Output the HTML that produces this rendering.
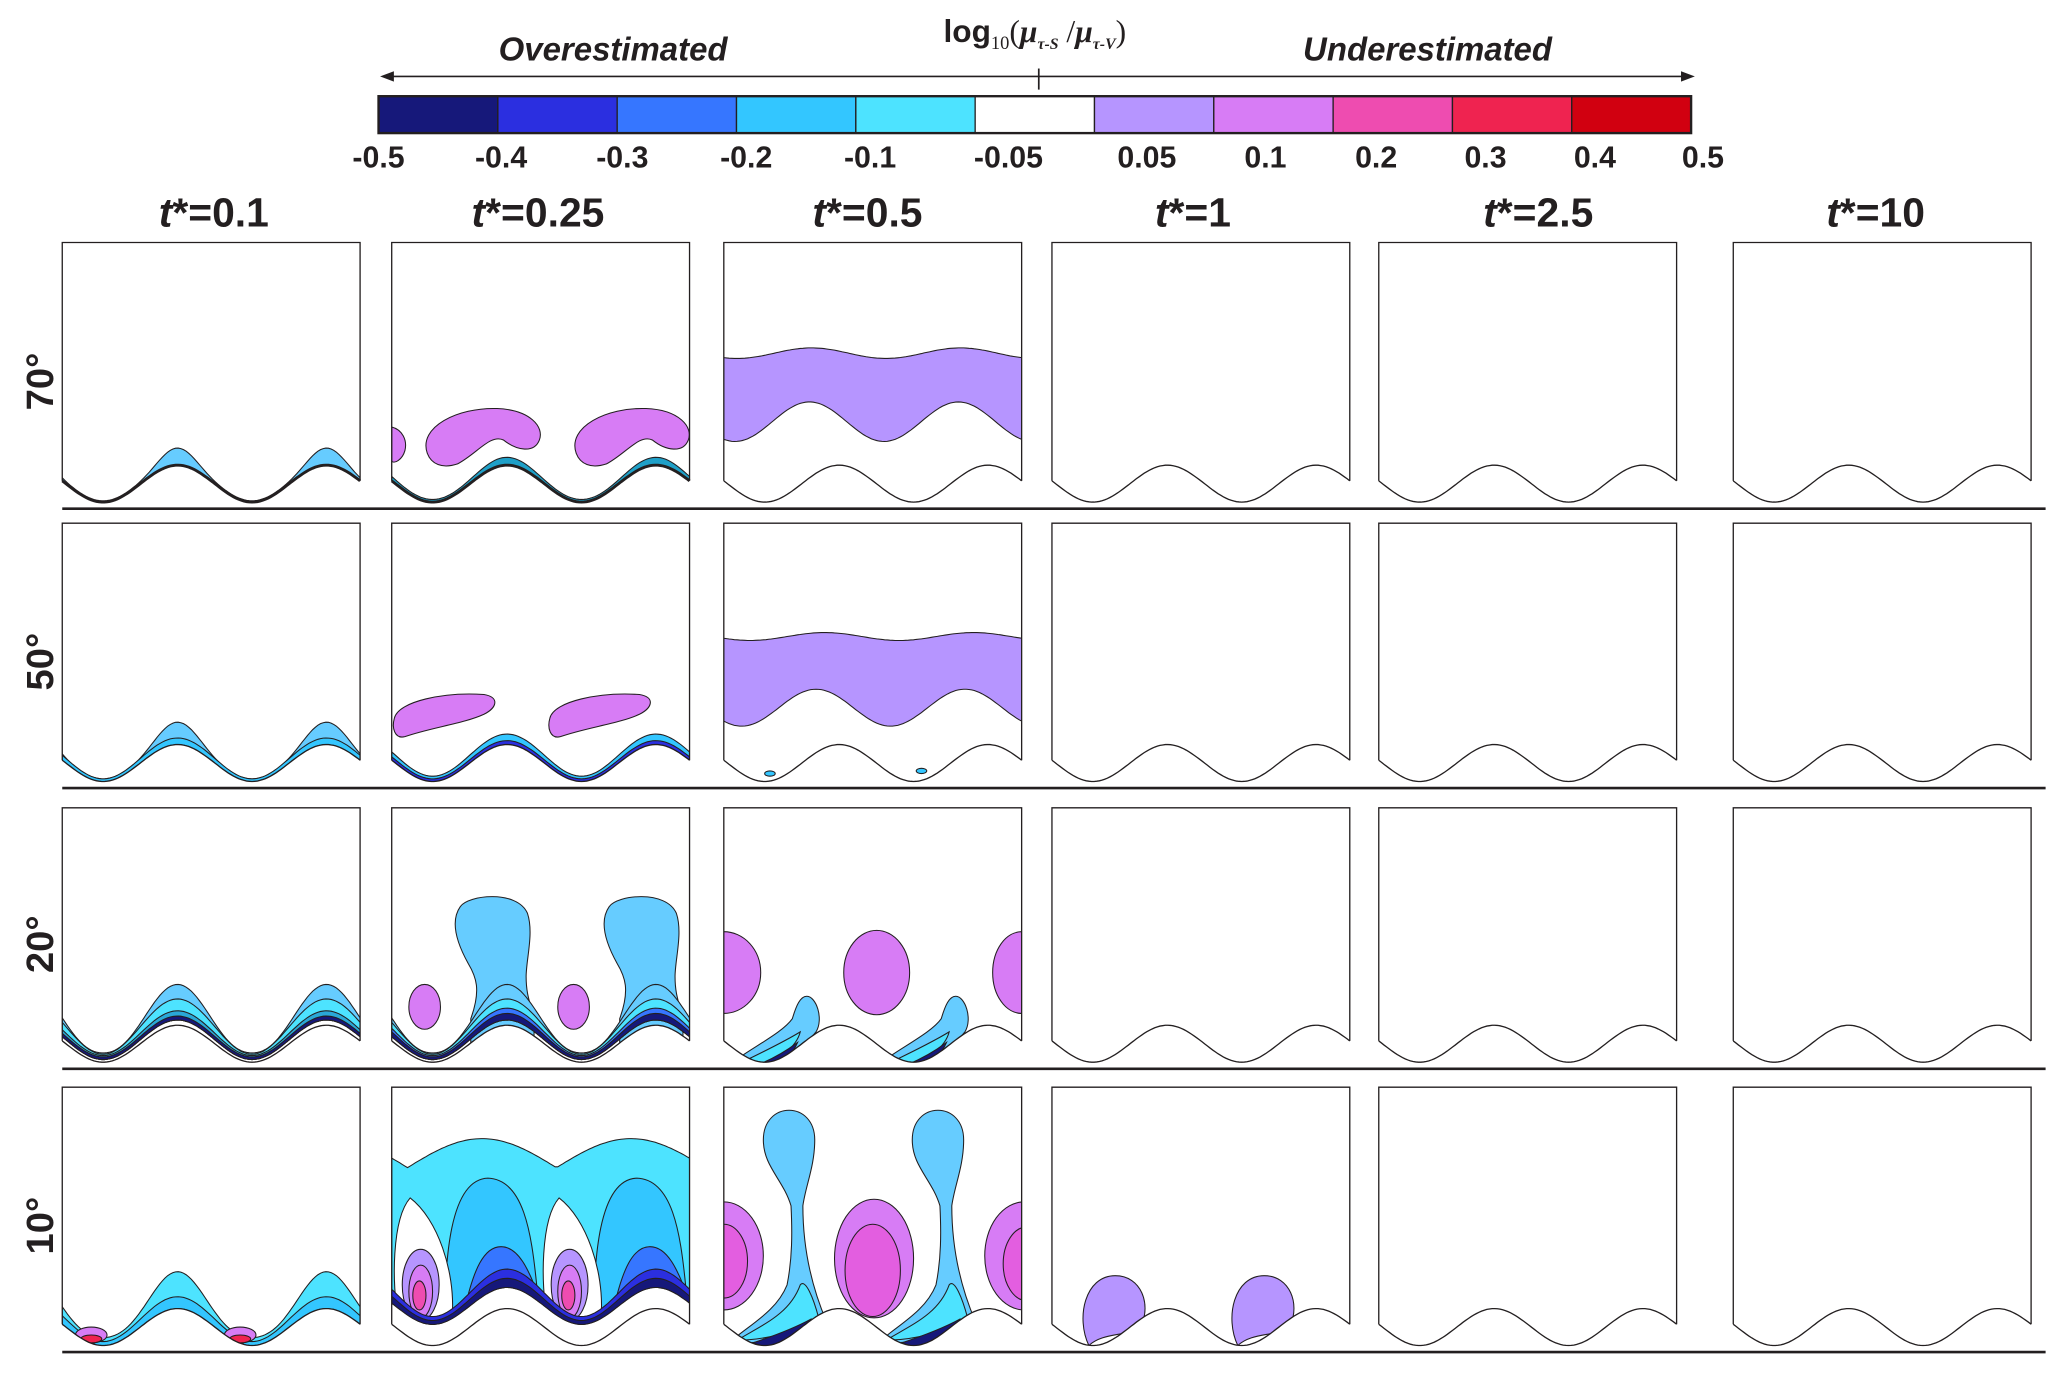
<!DOCTYPE html>
<html><head><meta charset="utf-8"><style>
html,body{margin:0;padding:0;background:#fff;}
svg{display:block;}
text{font-family:"Liberation Sans",sans-serif;fill:#231f20;}
</style></head><body>
<svg id="fig" width="2067" height="1389" viewBox="0 0 1568 1054" xmlns="http://www.w3.org/2000/svg">
<g id="legend">
  <text x="785" y="32" text-anchor="middle" font-size="24" font-weight="bold">log<tspan font-size="14" dy="5" font-weight="normal" font-family="Liberation Serif">10</tspan><tspan dy="-5" font-family="Liberation Serif" font-weight="normal">(</tspan><tspan font-style="italic" font-family="Liberation Serif">μ</tspan><tspan font-size="12" dy="5" font-style="italic" font-family="Liberation Serif">τ-S</tspan><tspan dy="-5" font-family="Liberation Serif" font-weight="normal"> /</tspan><tspan font-style="italic" font-family="Liberation Serif">μ</tspan><tspan font-size="12" dy="5" font-style="italic" font-family="Liberation Serif">τ-V</tspan><tspan dy="-5" font-family="Liberation Serif" font-weight="normal">)</tspan></text>
  <text x="465" y="46" text-anchor="middle" font-size="25" font-weight="bold" font-style="italic">Overestimated</text>
  <text x="1083" y="46" text-anchor="middle" font-size="25" font-weight="bold" font-style="italic">Underestimated</text>
  <g stroke="#231f20" stroke-width="1.3" fill="#231f20">
    <line x1="292" y1="58" x2="1281" y2="58"/>
    <line x1="788" y1="52" x2="788" y2="68"/>
    <path d="M290,58 l8,-3 l0,6z"/><path d="M1284,58 l-8,-3 l0,6z"/>
  </g>
  <g id="cbar"></g>
</g>
<g id="headers"></g>
<g id="panels"></g>
</svg>
<script>
const colorbarColors=['#16187a','#2b2fe0','#3676ff','#33c6ff','#4de3ff','#ffffff','#b695ff','#d77cf5','#ee4cb0','#ef2350','#d10010'];
const colorbarTicks=['-0.5','-0.4','-0.3','-0.2','-0.1','-0.05','0.05','0.1','0.2','0.3','0.4','0.5'];
const timeLabels=['0.1','0.25','0.5','1','2.5','10'];
const angleLabels=['70°','50°','20°','10°'];

const NS='http://www.w3.org/2000/svg';
function mk(tag,attrs,parent){const e=document.createElementNS(NS,tag);for(const k in attrs)e.setAttribute(k,attrs[k]);if(parent)parent.appendChild(e);return e;}

const cb=document.getElementById('cbar');
const cbX0=287,cbX1=1283,cbY=73,cbH=28;
const cw=(cbX1-cbX0)/colorbarColors.length;
colorbarColors.forEach((c,i)=>{
  const r=mk('rect',{x:cbX0+i*cw,y:cbY,width:cw,height:cbH,fill:c,stroke:'#231f20','stroke-width':1},cb);
  
  
});
mk('rect',{x:cbX0,y:cbY,width:cbX1-cbX0,height:cbH,fill:'none',stroke:'#231f20','stroke-width':1.8},cb);
const tickX=[287,380,472,566,660,765,870,960,1044,1127,1210,1292];
colorbarTicks.forEach((t,i)=>{
  const t1=mk('text',{x:tickX[i],y:127,'text-anchor':'middle','font-size':23,'font-weight':'bold'},cb);
  t1.textContent=t;
  
  
});

const colX=[47,297,549,798,1046,1315];
const colC=[162,408,658,905,1167,1423];
const rowY=[184,397,613,825];
const rowH=[201,200,197,200];
const W=226;
const hd=document.getElementById('headers');
timeLabels.forEach((t,i)=>{
  const tx=mk('text',{x:colC[i],y:172,'text-anchor':'middle','font-size':31,'font-weight':'bold'},hd);
  tx.innerHTML='<tspan font-style="italic">t</tspan>*='+t;
  
  
});
angleLabels.forEach((a,i)=>{
  const cy=rowY[i]+rowH[i]/2+5;
  const tx=mk('text',{x:0,y:0,transform:`translate(40,${cy}) rotate(-90)`,'text-anchor':'middle','font-size':29,'font-weight':'bold'},hd);
  tx.textContent=a;
  
  
});

function pf(x){return (1-Math.cos(2*Math.PI*(x-31)/113))/2;}
function wy(x,H){return H-4-28*pf(x);}
function band(H,lo,hi){
  let d='';
  for(let x=0;x<=W;x+=2){d+=(x?'L':'M')+x+','+(wy(x,H)-hi(pf(x))).toFixed(1);}
  for(let x=W;x>=0;x-=2){d+='L'+x+','+(wy(x,H)-lo(pf(x))).toFixed(1);}
  return d+'Z';
}
function curveBand(top,bot){
  let d='';
  for(let x=0;x<=W;x+=2){d+=(x?'L':'M')+x+','+top(x).toFixed(1);}
  for(let x=W;x>=0;x-=2){d+='L'+x+','+bot(x).toFixed(1);}
  return d+'Z';
}
const C=colorbarColors;
const LB='#66ccff';
function P(g,d,fill,name,dx){
  const p=mk('path',{d:d,fill:fill,stroke:'#231f20','stroke-width':0.8,transform:dx?`translate(${dx},0)`:''},g);
  
  
}
function E(g,cx,cy,rx,ry,fill,name){
  const p=mk('ellipse',{cx,cy,rx,ry,fill,stroke:'#231f20','stroke-width':0.8},g);
  
  
}
const cos=(x,ph)=>Math.cos(2*Math.PI*(x-ph)/113);

const content={
 '0,0':(g,H)=>{P(g,band(H,()=>0,p=>1+12*Math.pow(p,4)),LB,'contour-band');},
 '0,1':(g,H)=>{
   P(g,band(H,()=>0,p=>2+4*p*p),'#1fa0c8','contour-band');
   const k='M27,160 C20,140 50,125 80,126 C105,127 116,140 112,150 C108,160 95,158 85,150 C75,145 65,160 50,168 C38,172 30,168 27,160Z';
   P(g,k,C[7],'contour-blob');P(g,k,C[7],'contour-blob',113);
   P(g,'M0,140 C8,142 12,150 10,158 C8,165 2,168 0,166Z',C[7],'contour-blob');},
 '0,2':(g,H)=>{P(g,curveBand(x=>84+4*cos(x,10),x=>136-15*cos(x,65)),C[6],'contour-band');},
 '1,0':(g,H)=>{P(g,band(H,()=>0,p=>2+15*Math.pow(p,3)),LB,'contour-band');P(g,band(H,()=>0,p=>2+3*p),'#33c6ff','contour-band');},
 '1,1':(g,H)=>{
   P(g,band(H,()=>0,p=>4+4*p),'#33c6ff','contour-band');P(g,band(H,()=>0,p=>2+1*p),'#2b2fe0','contour-band');
   const k='M2,148 C5,135 40,128 70,130 C82,132 80,140 70,145 C55,152 30,155 10,162 C2,164 0,155 2,148Z';
   P(g,k,C[7],'contour-blob');P(g,k,C[7],'contour-blob',118);},
 '1,2':(g,H)=>{P(g,curveBand(x=>86+3*cos(x,20),x=>140-14*cos(x,70)),C[6],'contour-band');
   E(g,35,190,4,2,'#33c6ff','contour-spot');E(g,150,188,4,2,'#33c6ff','contour-spot');},
 '2,0':(g,H)=>{
   P(g,band(H,p=>2+2*p,p=>7+24*Math.pow(p,1.5)),LB,'contour-band');
   P(g,band(H,p=>2+2*p,p=>6+14*p),C[4],'contour-band');
   P(g,band(H,p=>2+2*p,p=>5+6*p),'#2aa8d8','contour-band');
   P(g,band(H,p=>2+2*p,p=>4+3*p),C[0],'contour-band');},
 '2,1':(g,H)=>{
   const k='M60,160 C68,138 64,128 58,118 C48,100 45,85 52,75 C58,66 95,62 103,80 C108,95 102,115 102,128 C102,140 104,145 108,160 L108,196 L60,196Z';
   P(g,k,LB,'contour-plume');P(g,k,LB,'contour-plume',113);
   E(g,25,151,12,17,C[7],'contour-blob');E(g,138,151,12,17,C[7],'contour-blob');
   P(g,band(H,p=>2+2*p,p=>7+24*Math.pow(p,1.5)),LB,'contour-band');
   P(g,band(H,p=>2+2*p,p=>6+14*p),C[4],'contour-band');
   P(g,band(H,p=>2+2*p,p=>5+8*p),C[2],'contour-band');
   P(g,band(H,p=>2+2*p,p=>4+5*p),C[0],'contour-band');},
 '2,2':(g,H)=>{
   E(g,116,125,25,32,C[7],'contour-blob');E(g,0,125,28,31,C[7],'contour-blob');E(g,226,125,22,31,C[7],'contour-blob');
   const k='M8,192 C25,180 45,170 52,160 C55,150 58,143 63,143 C70,143 76,160 70,170 C62,180 45,190 28,197Z';
   P(g,k,LB,'contour-plume');P(g,k,LB,'contour-plume',113);
   P(g,'M14,193 C30,185 45,178 58,170 C55,182 42,190 30,196Z',C[4],'contour-core');
   P(g,'M127,193 C143,185 158,178 171,170 C168,182 155,190 143,196Z',C[4],'contour-core');
   P(g,'M26,195 C38,190 48,184 56,178 C52,188 42,194 34,197Z',C[0],'contour-core');
   P(g,'M139,195 C151,190 161,184 169,178 C165,188 155,194 147,197Z',C[0],'contour-core');},
 '3,0':(g,H)=>{P(g,band(H,()=>0,p=>6+22*p*p),C[4],'contour-band');P(g,band(H,()=>0,p=>3+6*p),'#33c6ff','contour-band');
   E(g,22,188,12,6,C[7],'contour-spot');E(g,22,191,8,3,C[9],'contour-spot');E(g,135,188,12,6,C[7],'contour-spot');E(g,135,191,8,3,C[9],'contour-spot');},
 '3,1':(g,H)=>{
   P(g,curveBand(x=>61-22*Math.abs(Math.sin(Math.PI*(x-12)/113)),x=>wy(x,H)-16),C[4],'contour-region');
   const arch='M40,185 C40,130 44,70 73,69 C100,70 106,110 110,150 L112,185Z';
   P(g,arch,'#33c6ff','contour-tongue',-113);P(g,arch,'#33c6ff','contour-tongue');P(g,arch,'#33c6ff','contour-tongue',113);
   const bulb='M14,84 C0,100 0,150 5,175 C12,192 40,192 46,172 C48,140 35,100 14,84Z';
   P(g,bulb,'#fff','contour-bulb');P(g,bulb,'#fff','contour-bulb',113);
   const blue='M55,170 C62,138 70,121 83,121 C96,121 104,138 112,160 L112,185 L55,185Z';
   P(g,blue,C[2],'contour-arch',-113);P(g,blue,C[2],'contour-arch');P(g,blue,C[2],'contour-arch',113);
   [0,113].forEach(dx=>{E(g,22+dx,150,14,27,C[6],'contour-blob');E(g,22+dx,155,9,20,C[7],'contour-blob');E(g,21+dx,158,5,11,C[8],'contour-blob');});
   const gap=mk('path',{d:band(H,()=>-2,()=>16),fill:'#fff',stroke:'none'},g);
   
   
   P(g,band(H,p=>16,p=>22+8*p),C[1],'contour-band');
   P(g,band(H,p=>16,p=>19+4*p),C[0],'contour-band');},
 '3,2':(g,H)=>{
   E(g,0,128,30,41,C[7],'contour-blob');E(g,0,132,18,28,'#e35ee0','contour-blob');
   E(g,114,130,30,45,C[7],'contour-blob');E(g,113,139,21,35,'#e35ee0','contour-blob');
   E(g,228,128,30,41,C[7],'contour-blob');E(g,230,134,18,28,'#e35ee0','contour-blob');
   const k='M30,40 C30,10 69,10 69,40 C69,60 62,75 60,90 C60,120 66,150 78,178 L76,185 C60,190 20,196 5,193 C20,180 40,170 48,150 C52,130 52,110 51,90 C45,70 30,60 30,40Z';
   P(g,k,LB,'contour-plume');P(g,k,LB,'contour-plume',113);
   const t='M10,192 C30,180 50,172 58,150 C62,145 68,160 72,175 C60,185 30,192 10,192Z';
   P(g,t,C[4],'contour-core');P(g,t,C[4],'contour-core',113);
   const d='M22,194 C40,188 55,182 66,176 C62,186 45,193 32,197Z';
   P(g,d,C[0],'contour-core');P(g,d,C[0],'contour-core',113);},
 '3,3':(g,H)=>{const k='M28,196 C18,175 25,143 48,143 C68,143 75,165 68,180 C60,190 40,185 28,196Z';P(g,k,C[6],'contour-blob');P(g,k,C[6],'contour-blob',113);}
};

const pg=document.getElementById('panels');
rowY.forEach((y0,r)=>{
  const H=rowH[r];
  colX.forEach((x0,c)=>{
    const g=mk('g',{transform:`translate(${x0},${y0})`},pg);
    
    
    const cid=`clip${r}${c}`;
    const cp=mk('clipPath',{id:cid},g);mk('rect',{x:0,y:0,width:W,height:H},cp);
    const inner=mk('g',{'clip-path':`url(#${cid})`},g);
    const f=content[r+','+c]; if(f) f(inner,H);
    let d='M0,'+(H+3);
    for(let x=0;x<=W;x+=2)d+='L'+x+','+wy(x,H).toFixed(1);
    d+='L'+W+','+(H+3)+'Z';
    mk('path',{d,fill:'#fff'},g);
    let wl='';for(let x=0;x<=W;x+=2)wl+=(x?'L':'M')+x+','+wy(x,H).toFixed(1);
    const wv=mk('path',{d:wl,fill:'none',stroke:'#231f20','stroke-width':(r===0&&c<2)?2.2:1},g);
    
    
    const bd=mk('path',{d:`M0,${wy(0,H)}L0,0L${W},0L${W},${wy(W,H)}`,fill:'none',stroke:'#231f20','stroke-width':1},g);
    
    
  });
  const bl=mk('line',{x1:47,x2:1552,y1:y0+H+1,y2:y0+H+1,stroke:'#231f20','stroke-width':2},pg);
  
  
});
</script>
</body></html>
